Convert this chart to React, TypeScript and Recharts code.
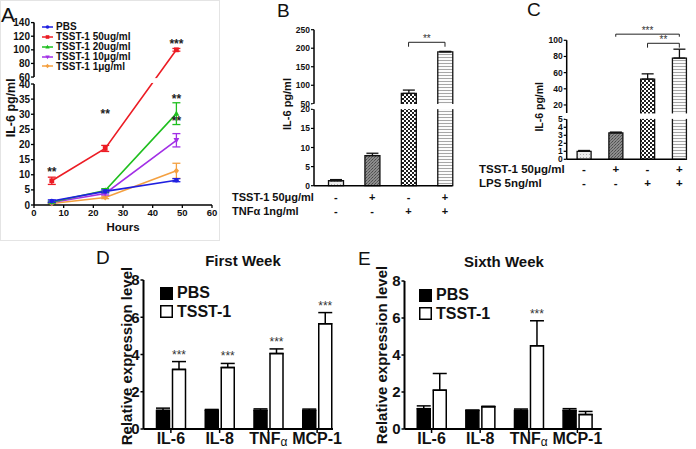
import React from 'react';
import {
  LineChart, Line, BarChart, Bar, XAxis, YAxis, ErrorBar, Cell,
  ReferenceLine, ReferenceDot, Legend, LabelList,
} from 'recharts';

const FONT = '"Liberation Sans", Arial, Helvetica, sans-serif';
const W = 696;
const H = 449;

// ---------------- Panel A data ----------------
const hoursA = [6, 24, 48];
const pbsA = [1.3, 4.5, 8.2];
const pbsAErr = [0.4, 0.5, 0.5];
const tsst50A = [8.0, 18.7, 100];
const tsst50AErr = [1.2, 1.0, 2.0];
const tsst20A = [1.0, 4.8, 30.2];
const tsst20AErr = [0.3, 0.6, 3.6];
const tsst10A = [0.8, 3.8, 21.4];
const tsst10AErr = [0.2, 0.5, 2.2];
const tsst1A = [0.5, 2.5, 11.3];
const tsst1AErr = [0.2, 0.4, 2.5];
const namesA = ['PBS', 'TSST-1 50ug/ml', 'TSST-1 20ug/ml', 'TSST-1 10μg/ml', 'TSST-1 1μg/ml'];
const xTicksA = [0, 10, 20, 30, 40, 50, 60];
const yTicksLowA = [0, 5, 10, 15, 20, 25, 30, 35, 40];
const yTicksHighA = [60, 80, 100, 120, 140];
const sigHoursA = [6, 24, 48, 48, 48];
const sigLevelA = [11.6, 30.8, 112, 35.6, 28.3];
const sigTextA = ['**', '**', '***', '**', '**'];

// ---------------- Panel B data ----------------
const catsB = ['c0', 'c1', 'c2', 'c3'];
const tsstB = ['-', '+', '-', '+'];
const tnfB = ['-', '-', '+', '+'];
const rowNamesB = ['TSST-1 50μg/ml', 'TNFα 1ng/ml'];
const il6B = [1.3, 7.9, 78, 190];
const il6BErr = [0.3, 0.6, 9, 1.5];
const yTicksLowB = [0, 5, 10, 15, 20];
const yTicksHighB = [50, 100, 150, 200, 250];

// ---------------- Panel C data ----------------
const catsC = ['c0', 'c1', 'c2', 'c3'];
const tsstC = ['-', '+', '-', '+'];
const lpsC = ['-', '-', '+', '+'];
const rowNamesC = ['TSST-1 50μg/ml', 'LPS 5ng/ml'];
const il6C = [1.0, 3.3, 52, 78];
const il6CErr = [0.1, 0.1, 6.5, 11];
const yTicksLowC = [0, 1, 2, 3, 4, 5];
const yTicksHighC = [20, 40, 60, 80, 100];

// ---------------- Panels D / E data ----------------
const genes = ['IL-6', 'IL-8', 'TNFα', 'MCP-1'];
const pbsD = [1.0, 1.0, 1.0, 1.0];
const pbsDErr = [0.12, 0.05, 0.08, 0.07];
const tsstD = [3.2, 3.3, 4.05, 5.65];
const tsstDErr = [0.42, 0.22, 0.25, 0.6];
const sigD = ['***', '***', '***', '***'];
const pbsE = [1.1, 1.0, 1.0, 1.0];
const pbsEErr = [0.15, 0.02, 0.08, 0.1];
const tsstE = [2.1, 1.2, 4.5, 0.78];
const tsstEErr = [0.9, 0.03, 1.35, 0.17];
const sigE = ['', '', '***', ''];
const yTicksDE = [0, 2, 4, 6, 8];

// ---------------- broken axis helpers ----------------
type Brk = { lo: number; hi: number; gap: number; k: number; max: number };
const fwd = (b: Brk) => (v: number) => (v <= b.lo ? v : b.lo + b.gap + (v - b.hi) * b.k);
const inv = (b: Brk) => (d: number) => (d <= b.lo + 1e-6 ? d : b.hi + (d - b.lo - b.gap) / b.k);
const topOf = (b: Brk) => fwd(b)(b.max);
const dashOf = (b: Brk, plotH: number) => {
  const ppu = plotH / topOf(b);
  return `${(topOf(b) - b.lo - b.gap) * ppu} ${b.gap * ppu} ${b.lo * ppu + 20}`;
};

const bA: Brk = { lo: 40, hi: 60, gap: 2.3, k: 0.225, max: 140 };
const bB: Brk = { lo: 20, hi: 50, gap: 1.45, k: 0.097, max: 250 };
const bC: Brk = { lo: 5, hi: 10, gap: 0.78, k: 0.101, max: 100 };
const fA = fwd(bA);
const fB = fwd(bB);
const fC = fwd(bC);

type Geom = { top: number; bottom: number; left: number; right: number };
const geomA: Geom = { top: 22.6, bottom: 205, left: 34, right: 212 };
const geomB: Geom = { top: 29.7, bottom: 185.7, left: 314, right: 452.5 };
const geomC: Geom = { top: 40.3, bottom: 159.3, left: 566.7, right: 685.5 };

// white band across the plot at the axis break (decoration only)
const breakBand = (g: Geom, b: Brk, inset: number, extraRight: number, key: string) => {
  const ppu = (g.bottom - g.top) / topOf(b);
  const yTop = g.bottom - (b.lo + b.gap - inset) * ppu;
  const yBot = g.bottom - (b.lo + inset) * ppu;
  return <rect key={key} x={g.left - 1.5} y={yTop} width={g.right - g.left + 1.5 + extraRight} height={yBot - yTop} fill="#ffffff" />;
};

// ---------------- markers ----------------
const marker = (shape: string, cx: number, cy: number, color: string, r: number, key?: string) => {
  if (shape === 'circle') return <circle key={key} cx={cx} cy={cy} r={r} fill={color} />;
  if (shape === 'square') return <rect key={key} x={cx - r} y={cy - r} width={2 * r} height={2 * r} fill={color} />;
  if (shape === 'tri')
    return <polygon key={key} points={`${cx},${cy - r * 1.3} ${cx - r * 1.2},${cy + r * 0.9} ${cx + r * 1.2},${cy + r * 0.9}`} fill={color} />;
  if (shape === 'triDown')
    return <polygon key={key} points={`${cx},${cy + r * 1.3} ${cx - r * 1.2},${cy - r * 0.9} ${cx + r * 1.2},${cy - r * 0.9}`} fill={color} />;
  return <polygon key={key} points={`${cx},${cy - r * 1.3} ${cx + r * 1.1},${cy} ${cx},${cy + r * 1.3} ${cx - r * 1.1},${cy}`} fill={color} />;
};

const seriesA = [
  { key: 'pbs', name: namesA[0], vals: pbsA, errs: pbsAErr, color: '#1f1fe0', shape: 'circle' },
  { key: 't50', name: namesA[1], vals: tsst50A, errs: tsst50AErr, color: '#ec1c24', shape: 'square' },
  { key: 't20', name: namesA[2], vals: tsst20A, errs: tsst20AErr, color: '#1fbf1f', shape: 'tri' },
  { key: 't10', name: namesA[3], vals: tsst10A, errs: tsst10AErr, color: '#a22fe6', shape: 'triDown' },
  { key: 't1', name: namesA[4], vals: tsst1A, errs: tsst1AErr, color: '#f4a040', shape: 'diamond' },
];

const rowsA = hoursA.map((h, i) => {
  const r: any = { h };
  seriesA.forEach((s) => {
    const v = s.vals[i];
    const e = s.errs[i];
    r[s.key] = fA(v);
    r[s.key + 'E'] = [fA(v) - fA(v - e), fA(v + e) - fA(v)];
  });
  return r;
});

const yTicksA = [...yTicksLowA, ...yTicksHighA].map(fA);

const legendA = () => (
  <div style={{ fontFamily: FONT, fontWeight: 'bold', fontSize: 10, color: '#111' }}>
    {seriesA.map((s) => (
      <div key={s.key} style={{ display: 'flex', alignItems: 'center', height: 9.8, whiteSpace: 'nowrap' }}>
        <svg width={11} height={8} style={{ display: 'block' }}>
          <line x1={0} x2={11} y1={4} y2={4} stroke={s.color} strokeWidth={1.5} />
          {marker(s.shape, 5.5, 4, s.color, 1.8)}
        </svg>
        <span style={{ marginLeft: 3, lineHeight: '9.8px' }}>{s.name}</span>
      </div>
    ))}
  </div>
);

const tickStyle = (fs: number) => ({ fontSize: fs, fontWeight: 'bold', fill: '#111', fontFamily: FONT });

function ChartA() {
  const g = geomA;
  const drawOrder = [...seriesA].reverse();
  return (
    <LineChart width={W} height={H} data={rowsA} margin={{ top: g.top, left: g.left - 30, right: W - g.right, bottom: H - g.bottom - 20 }}>
      <XAxis
        type="number" dataKey="h" domain={[0, 60]} ticks={xTicksA} interval={0} height={20}
        tick={tickStyle(9.5)} tickSize={3} tickMargin={1}
        axisLine={{ stroke: '#000', strokeWidth: 1.6 }} tickLine={{ stroke: '#000', strokeWidth: 1.3 }}
        label={{ value: 'Hours', position: 'center', dy: 12, fontSize: 11.5, fontWeight: 'bold', fill: '#111', fontFamily: FONT }}
      />
      <YAxis
        type="number" domain={[0, topOf(bA)]} ticks={yTicksA} interval={0} width={30}
        tickFormatter={(v: number) => String(Math.round(inv(bA)(v)))}
        tick={tickStyle(10)} tickSize={3} tickMargin={1}
        axisLine={{ stroke: '#000', strokeWidth: 1.6, strokeDasharray: dashOf(bA, g.bottom - g.top) }}
        tickLine={{ stroke: '#000', strokeWidth: 1.3 }}
        label={{ value: 'IL-6 pg/ml', angle: -90, position: 'center', dx: -8, dy: -6, fontSize: 12.5, fontWeight: 'bold', fill: '#111', fontFamily: FONT }}
      />
      {drawOrder.map((s) => (
        <Line
          key={s.key} dataKey={s.key} stroke={s.color} strokeWidth={1.6} isAnimationActive={false}
          activeDot={false}
          dot={(p: any) => (p.cx == null ? <g key={s.key + p.index} /> : marker(s.shape, p.cx, p.cy, s.color, 2.4, s.key + p.index))}
        >
          <ErrorBar dataKey={s.key + 'E'} width={4} stroke={s.color} strokeWidth={1.3} direction="y" />
        </Line>
      ))}
      {sigHoursA.map((h, i) => (
        <ReferenceDot
          key={'sa' + i} x={h} y={fA(sigLevelA[i])} r={0} ifOverflow="visible"
          shape={(p: any) => (
            <text x={p.cx} y={p.cy + 6} textAnchor="middle" fontFamily={FONT} fontWeight="bold" fontSize={12} fill="#222">
              {sigTextA[i]}
            </text>
          )}
        />
      ))}
      <Legend
        layout="vertical" align="center" verticalAlign="middle" content={legendA}
        wrapperStyle={{ left: 42, top: 22.4, width: 140, height: 50 }}
      />
    </LineChart>
  );
}

// ---------------- bar panels B / C ----------------
const patterns = (p: string) => (
  <defs>
    <pattern id={`${p}-dots`} width={3} height={3} patternUnits="userSpaceOnUse">
      <rect width={3} height={3} fill="#ececec" />
      <rect x={1} y={1} width={1} height={1} fill="#b0b0b0" />
    </pattern>
    <pattern id={`${p}-dark`} width={3} height={3} patternUnits="userSpaceOnUse">
      <rect width={3} height={3} fill="#8c8c8c" />
      <rect x={0} y={0} width={1} height={1} fill="#4a4a4a" />
      <rect x={2} y={1} width={1} height={1} fill="#555555" />
      <rect x={1} y={2} width={1} height={1} fill="#666666" />
    </pattern>
    <pattern id={`${p}-check`} width={4} height={4} patternUnits="userSpaceOnUse">
      <rect width={4} height={4} fill="#ffffff" />
      <rect x={0} y={0} width={2} height={2} fill="#1e1e1e" />
      <rect x={2} y={2} width={2} height={2} fill="#1e1e1e" />
    </pattern>
    <pattern id={`${p}-stripe`} width={4} height={3} patternUnits="userSpaceOnUse">
      <rect width={4} height={3} fill="#fbfbfb" />
      <rect x={0} y={0} width={4} height={1} fill="#a6a6a6" />
    </pattern>
  </defs>
);
const fillsBC = ['dots', 'dark', 'check', 'stripe'];

const signTick = (rows: string[][], names: string[], nameX: number, offs: number[], fs: number) => (p: any) => {
  const { x, y, index } = p;
  return (
    <g>
      {rows.map((r, j) => (
        <text key={'s' + j} x={x} y={y + offs[j]} textAnchor="middle" dominantBaseline="central" fontFamily={FONT} fontWeight="bold" fontSize={fs} fill="#111">
          {r[index]}
        </text>
      ))}
      {index === 0 &&
        names.map((n, j) => (
          <text key={'n' + j} x={nameX} y={y + offs[j]} textAnchor="start" dominantBaseline="central" fontFamily={FONT} fontWeight="bold" fontSize={fs} fill="#111">
            {n}
          </text>
        ))}
    </g>
  );
};

const bracket = (id: string, x1: string, x2: string, yLine: number, yLeg: number, text: string, fs: number) => [
  <ReferenceLine
    key={id + 'h'} segment={[{ x: x1, y: yLine }, { x: x2, y: yLine }]} stroke="#222" strokeWidth={1} ifOverflow="visible"
    label={{ value: text, position: 'top', offset: 0.5, fontSize: fs, fill: '#333', fontFamily: FONT }}
  />,
  <ReferenceLine key={id + 'l'} segment={[{ x: x1, y: yLine }, { x: x1, y: yLeg }]} stroke="#222" strokeWidth={1} ifOverflow="visible" />,
  <ReferenceLine key={id + 'r'} segment={[{ x: x2, y: yLine }, { x: x2, y: yLeg }]} stroke="#222" strokeWidth={1} ifOverflow="visible" />,
];

const rowsB = catsB.map((c, i) => ({
  c, v: fB(il6B[i]), e: [0, fB(il6B[i] + il6BErr[i]) - fB(il6B[i])],
}));
const rowsC = catsC.map((c, i) => ({
  c, v: fC(il6C[i]), e: [0, fC(il6C[i] + il6CErr[i]) - fC(il6C[i])],
}));

function ChartB() {
  const g = geomB;
  return (
    <BarChart width={W} height={H} data={rowsB} margin={{ top: g.top, left: g.left - 30, right: W - g.right, bottom: H - g.bottom - 30 }}>
      {patterns('pb')}
      <XAxis
        dataKey="c" height={30} padding={{ left: 3.5, right: -10.7 }} interval={0}
        tickLine={false} tickSize={0} tickMargin={0}
        axisLine={{ stroke: '#000', strokeWidth: 1.5 }}
        tick={signTick([tsstB, tnfB], rowNamesB, 232, [11.3, 25], 11)}
      />
      <YAxis
        type="number" domain={[0, topOf(bB)]} width={30} interval={0}
        ticks={[...yTicksLowB, ...yTicksHighB].map(fB)}
        tickFormatter={(v: number) => String(Math.round(inv(bB)(v)))}
        tick={tickStyle(8.5)} tickSize={3} tickMargin={1}
        axisLine={{ stroke: '#000', strokeWidth: 1.5, strokeDasharray: dashOf(bB, g.bottom - g.top) }}
        tickLine={{ stroke: '#000', strokeWidth: 1.2 }}
        label={{ value: 'IL-6 pg/ml', angle: -90, position: 'center', dx: -12, dy: -3.7, fontSize: 11, fontWeight: 'bold', fill: '#111', fontFamily: FONT }}
      />
      <Bar dataKey="v" barSize={15} stroke="#111" strokeWidth={1.3} isAnimationActive={false}>
        {rowsB.map((r, i) => (
          <Cell key={r.c} fill={`url(#pb-${fillsBC[i]})`} />
        ))}
        <ErrorBar dataKey="e" width={6} stroke="#111" strokeWidth={1.3} direction="y" />
      </Bar>
      {bracket('b1', 'c2', 'c3', fB(216), fB(204), '**', 10)}
    </BarChart>
  );
}

function ChartC() {
  const g = geomC;
  return (
    <BarChart width={W} height={H} data={rowsC} margin={{ top: g.top, left: g.left - 30, right: W - g.right, bottom: H - g.bottom - 30 }}>
      {patterns('pc')}
      <XAxis
        dataKey="c" height={30} padding={{ left: 1.4, right: -9.7 }} interval={0}
        tickLine={false} tickSize={0} tickMargin={0}
        axisLine={{ stroke: '#000', strokeWidth: 1.5 }}
        tick={signTick([tsstC, lpsC], rowNamesC, 479, [10, 23.4], 11.5)}
      />
      <YAxis
        type="number" domain={[0, topOf(bC)]} width={30} interval={0}
        ticks={[...yTicksLowC, ...yTicksHighC].map(fC)}
        tickFormatter={(v: number) => String(Math.round(inv(bC)(v)))}
        tick={tickStyle(8.5)} tickSize={3} tickMargin={1}
        axisLine={{ stroke: '#000', strokeWidth: 1.5, strokeDasharray: dashOf(bC, g.bottom - g.top) }}
        tickLine={{ stroke: '#000', strokeWidth: 1.2 }}
        label={{ value: 'IL-6 pg/ml', angle: -90, position: 'center', dx: -12.5, dy: 7, fontSize: 10.5, fontWeight: 'bold', fill: '#111', fontFamily: FONT }}
      />
      <Bar dataKey="v" barSize={14} stroke="#111" strokeWidth={1.3} isAnimationActive={false}>
        {rowsC.map((r, i) => (
          <Cell key={r.c} fill={`url(#pc-${fillsBC[i]})`} />
        ))}
        <ErrorBar dataKey="e" width={6} stroke="#111" strokeWidth={1.3} direction="y" />
      </Bar>
      {bracket('c1', 'c1', 'c3', fC(107.6), fC(104.4), '***', 10)}
      {bracket('c2', 'c2', 'c3', fC(96.3), fC(90.9), '**', 10)}
    </BarChart>
  );
}

// ---------------- panels D / E ----------------
const GeneTick = (p: any) => {
  const label = String(p.payload.value);
  const greek = label.endsWith('α');
  return (
    <text x={p.x} y={p.y + 11} textAnchor="middle" fontFamily={FONT} fontSize={16} fontWeight="bold" fill="#111">
      {greek ? (
        <>
          {label.slice(0, -1)}
          <tspan fontSize={12} fontWeight="normal" dy={2}>α</tspan>
        </>
      ) : (
        label
      )}
    </text>
  );
};

const legendDE = () => (
  <div style={{ fontFamily: FONT, fontWeight: 'bold', fontSize: 16, color: '#111' }}>
    {['PBS', 'TSST-1'].map((n, i) => (
      <div key={n} style={{ display: 'flex', alignItems: 'center', height: 18.5, whiteSpace: 'nowrap' }}>
        <svg width={13} height={13} style={{ display: 'block' }}>
          <rect x={0.75} y={0.75} width={11.5} height={11.5} fill={i === 0 ? '#000' : '#fff'} stroke="#000" strokeWidth={1.5} />
        </svg>
        <span style={{ marginLeft: 4, lineHeight: '18px' }}>{n}</span>
      </div>
    ))}
  </div>
);

type ExprProps = {
  pbs: number[]; pbsErr: number[]; tsst: number[]; tsstErr: number[]; sig: string[];
  left: number; right: number; top: number; padL: number; padR: number;
  labelDx: number; labelDy: number; legLeft: number; legTop: number;
};

function ExprChart(props: ExprProps) {
  const rows = genes.map((g, i) => ({
    g, pbs: props.pbs[i], pbsE: [0, props.pbsErr[i]], tsst: props.tsst[i], tsstE: [0, props.tsstErr[i]], sig: props.sig[i],
  }));
  const plotBottom = 429;
  return (
    <BarChart
      width={W} height={H} data={rows} barGap={3}
      margin={{ top: props.top, left: props.left - 30, right: W - props.right, bottom: H - plotBottom - 20 }}
    >
      <XAxis
        dataKey="g" height={20} interval={0} padding={{ left: props.padL, right: props.padR }}
        tickSize={4} tickMargin={0} tick={GeneTick}
        axisLine={{ stroke: '#000', strokeWidth: 2 }} tickLine={{ stroke: '#000', strokeWidth: 1.5 }}
      />
      <YAxis
        type="number" domain={[0, 8]} ticks={yTicksDE} interval={0} width={30}
        tick={tickStyle(15)} tickSize={3} tickMargin={1}
        axisLine={{ stroke: '#000', strokeWidth: 2 }} tickLine={{ stroke: '#000', strokeWidth: 1.5 }}
        label={{ value: 'Relative expression level', angle: -90, position: 'center', dx: props.labelDx, dy: props.labelDy, fontSize: 15, fontWeight: 'bold', fill: '#111', fontFamily: FONT }}
      />
      <Bar dataKey="pbs" barSize={13} fill="#000" stroke="#000" strokeWidth={1.5} isAnimationActive={false}>
        <ErrorBar dataKey="pbsE" width={7} stroke="#000" strokeWidth={1.5} direction="y" />
      </Bar>
      <Bar dataKey="tsst" barSize={13} fill="#fff" stroke="#000" strokeWidth={1.5} isAnimationActive={false}>
        <ErrorBar dataKey="tsstE" width={7} stroke="#000" strokeWidth={1.5} direction="y" />
        <LabelList
          dataKey="sig"
          content={(p: any) => {
            const vb = p.viewBox || {};
            const x = p.x ?? vb.x;
            const y = p.y ?? vb.y;
            const w = p.width ?? vb.width;
            const h = p.height ?? vb.height;
            const idx = p.index;
            if (!p.value || idx == null) return null;
            const r = rows[idx];
            const ppu = h / r.tsst;
            const capY = y - r.tsstE[1] * ppu;
            return (
              <text x={x + w / 2} y={capY - 3} textAnchor="middle" fontFamily={FONT} fontSize={12} fill="#333">
                {p.value}
              </text>
            );
          }}
        />
      </Bar>
      <Legend
        layout="vertical" align="center" verticalAlign="middle" content={legendDE}
        wrapperStyle={{ left: props.legLeft, top: props.legTop, width: 110, height: 40 }}
      />
    </BarChart>
  );
}

const abs: React.CSSProperties = { position: 'absolute', left: 0, top: 0 };

export default function App() {
  return (
    <div style={{ position: 'absolute', left: 0, top: 0, width: W, height: H, background: '#fff', overflow: 'hidden' }}>
      <svg width={W} height={H} style={abs}>
        <rect x={0.5} y={0.5} width={219} height={240} fill="none" stroke="#e4e4e4" strokeWidth={1} />
        <g fontFamily={FONT} fill="#111">
          <text x={1} y={21.5} fontSize={21}>A</text>
          <text x={277} y={17} fontSize={19}>B</text>
          <text x={527} y={16} fontSize={19}>C</text>
          <text x={96} y={264} fontSize={19}>D</text>
          <text x={358} y={265} fontSize={19}>E</text>
          <text x={243} y={265.5} fontSize={15} fontWeight="bold" textAnchor="middle">First Week</text>
          <text x={504} y={267} fontSize={15} fontWeight="bold" textAnchor="middle">Sixth Week</text>
        </g>
      </svg>
      <div style={abs}><ChartA /></div>
      <div style={abs}><ChartB /></div>
      <div style={abs}><ChartC /></div>
      <svg width={W} height={H} style={{ ...abs, pointerEvents: 'none' }}>
        {breakBand(geomA, bA, 0.35, 0, 'ga')}
        {breakBand(geomB, bB, 0.05, 4, 'gb')}
        {breakBand(geomC, bC, 0.05, 4, 'gc')}
      </svg>
      <div style={abs}>
        <ExprChart
          pbs={pbsD} pbsErr={pbsDErr} tsst={tsstD} tsstErr={tsstDErr} sig={sigD}
          left={143.5} right={333} top={280} padL={3} padR={-8.5}
          labelDx={-2} labelDy={1.5} legLeft={160} legTop={284}
        />
      </div>
      <div style={abs}>
        <ExprChart
          pbs={pbsE} pbsErr={pbsEErr} tsst={tsstE} tsstErr={tsstEErr} sig={sigE}
          left={404.5} right={601.7} top={281} padL={2.75} padR={0}
          labelDx={-7.5} labelDy={0} legLeft={419} legTop={286}
        />
      </div>
    </div>
  );
}
